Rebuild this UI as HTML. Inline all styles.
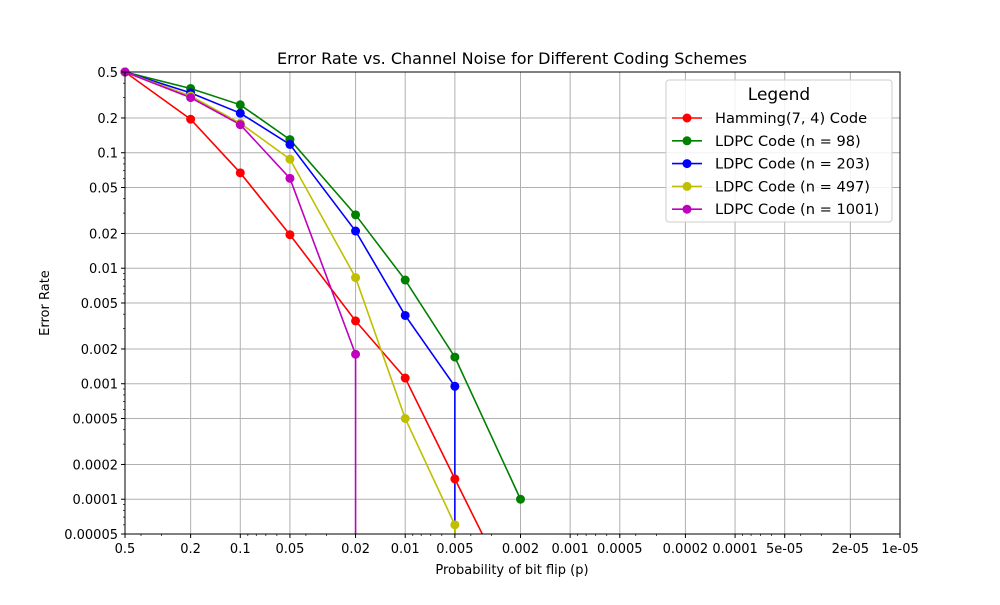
<!DOCTYPE html>
<html><head><meta charset="utf-8"><style>
body{margin:0;background:#fff}
svg text{font-family:"DejaVu Sans","Liberation Sans",sans-serif;fill:#000}
</style></head><body>
<svg id="c" width="1000" height="600" xmlns="http://www.w3.org/2000/svg">
<defs><clipPath id="clip"><rect x="125" y="72" width="775" height="462"/></clipPath></defs>
<rect width="1000" height="600" fill="#fff"/>
<text x="512" y="64" font-size="16" text-anchor="middle">Error Rate vs. Channel Noise for Different Coding Schemes</text>
<g id="grid"></g><g id="series" clip-path="url(#clip)"></g><g id="markers"></g>
<rect x="125" y="72" width="775" height="462" fill="none" stroke="#000" stroke-width="1"/>
<g id="axes"></g>
<text x="512" y="574" font-size="13" text-anchor="middle">Probability of bit flip (p)</text>
<text x="49" y="303" font-size="13" text-anchor="middle" transform="rotate(-90 49 303)">Error Rate</text>
<g id="legend"></g>
</svg>
<script>
const xValues=[0.5,0.2,0.1,0.05,0.02,0.01,0.005,0.002];
const hamming=[0.5,0.195,0.067,0.0195,0.0035,0.00112,0.00015,0.0000108];
const ldpc98=[0.5,0.36,0.26,0.13,0.029,0.0079,0.0017,0.0001];
const ldpc203=[0.5,0.33,0.22,0.118,0.021,0.0039,0.00095,0];
const ldpc497=[0.5,0.31,0.18,0.088,0.0083,0.0005,0.00006,0];
const ldpc1001=[0.5,0.30,0.175,0.06,0.0018,0,0,0];
const seriesNames=["Hamming(7, 4) Code","LDPC Code (n = 98)","LDPC Code (n = 203)","LDPC Code (n = 497)","LDPC Code (n = 1001)"];
const seriesColors=["#ff0000","#008000","#0000ff","#bfbf00","#bf00bf"];
const xTicks=[0.5,0.2,0.1,0.05,0.02,0.01,0.005,0.002,0.001,0.0005,0.0002,0.0001,0.00005,0.00002,0.00001];
const xTickLabels=["0.5","0.2","0.1","0.05","0.02","0.01","0.005","0.002","0.001","0.0005","0.0002","0.0001","5e-05","2e-05","1e-05"];
const yTicks=[0.5,0.2,0.1,0.05,0.02,0.01,0.005,0.002,0.001,0.0005,0.0002,0.0001,0.00005];
const yTickLabels=["0.5","0.2","0.1","0.05","0.02","0.01","0.005","0.002","0.001","0.0005","0.0002","0.0001","0.00005"];
const NS="http://www.w3.org/2000/svg";
const X0=125,X1=900,Y0=72,Y1=534;
const xs=v=>X0+(Math.log10(0.5)-Math.log10(v))/(Math.log10(0.5)-Math.log10(1e-5))*(X1-X0);
const ys=v=>v<=0?Y1+50:Y0+(Math.log10(0.5)-Math.log10(v))/(Math.log10(0.5)-Math.log10(5e-5))*(Y1-Y0);
function mk(tag,attrs,parent){const e=document.createElementNS(NS,tag);for(const k in attrs)e.setAttribute(k,attrs[k]);parent.appendChild(e);return e;}
const grid=document.getElementById('grid'),axes=document.getElementById('axes');
xTicks.forEach((t,i)=>{const x=xs(t);
 const g=mk('line',{x1:x,x2:x,y1:Y0,y2:Y1,stroke:'#b0b0b0','stroke-width':1},grid);
 
 mk('line',{x1:x,x2:x,y1:Y1,y2:Y1+4,stroke:'#000'},axes);
 const tx=mk('text',{x:x,y:Y1+19,'font-size':13,'text-anchor':'middle'},axes);tx.textContent=xTickLabels[i];
 });
yTicks.forEach((t,i)=>{const y=ys(t);
 const g=mk('line',{x1:X0,x2:X1,y1:y,y2:y,stroke:'#b0b0b0','stroke-width':1},grid);
 
 mk('line',{x1:X0-4,x2:X0,y1:y,y2:y,stroke:'#000'},axes);
 const tx=mk('text',{x:X0-7,y:y+5,'font-size':13,'text-anchor':'end'},axes);tx.textContent=yTickLabels[i];
 });
for(let e=-5;e<=0;e++)for(let m=2;m<10;m++){const v=m*Math.pow(10,e-1);
 if(v<=0.5&&v>=1e-5){const x=xs(v);mk('line',{x1:x,x2:x,y1:Y1,y2:Y1+2,stroke:'#000','stroke-width':0.7},axes);}
 if(v<=0.5&&v>=5e-5){const y=ys(v);mk('line',{x1:X0-2,x2:X0,y1:y,y2:y,stroke:'#000','stroke-width':0.7},axes);}}
const data=[hamming,ldpc98,ldpc203,ldpc497,ldpc1001];
const sg=document.getElementById('series'),mg=document.getElementById('markers');
data.forEach((vals,si)=>{
 let pts=[],prevX=null;
 for(let i=0;i<vals.length;i++){
  if(vals[i]<=0){if(prevX!==null)pts.push([prevX,Y1+50]);break;}
  prevX=xs(xValues[i]);pts.push([prevX,ys(vals[i])]);}
 const p=mk('polyline',{points:pts.map(q=>q.join(',')).join(' '),fill:'none',stroke:seriesColors[si],'stroke-width':1.6},sg);
 
 vals.forEach((v,i)=>{if(v>0){const y=ys(v);if(y<=Y1+1){const c=mk('circle',{cx:xs(xValues[i]),cy:y,r:4.5,fill:seriesColors[si]},mg);
  }}});
});
const lg=document.getElementById('legend');
mk('rect',{x:666,y:80,width:226,height:142,rx:3,fill:'#fff','fill-opacity':0.85,stroke:'#ccc'},lg);
const lt=mk('text',{x:779,y:100,'font-size':17,'text-anchor':'middle'},lg);lt.textContent='Legend';

seriesNames.forEach((n,i)=>{const y=118+i*22.8;
 const g=mk('g',{},lg);
 mk('line',{x1:672,x2:702,y1:y,y2:y,stroke:seriesColors[i],'stroke-width':1.6},g);
 mk('circle',{cx:687,cy:y,r:4.5,fill:seriesColors[i]},g);
 const t=mk('text',{x:715,y:y+5,'font-size':14.6},g);t.textContent=n;});
</script>
</body></html>
